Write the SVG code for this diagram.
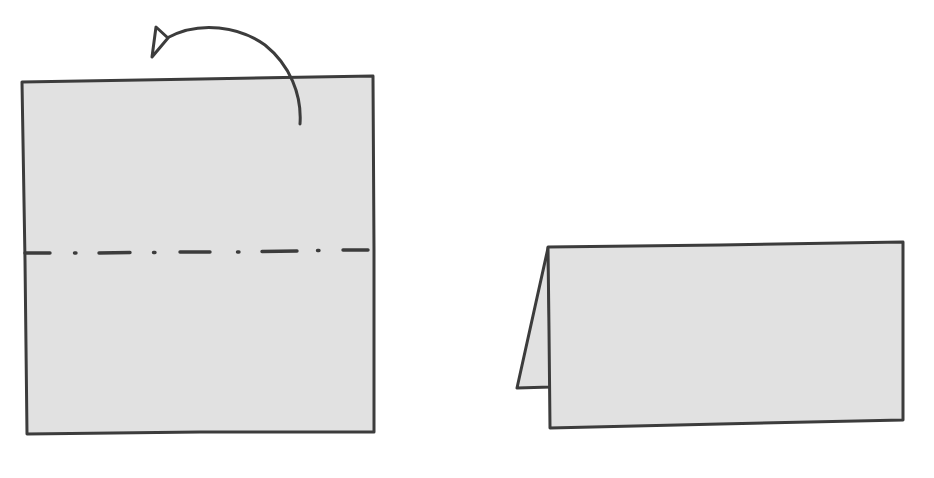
<svg xmlns="http://www.w3.org/2000/svg" width="934" height="478" viewBox="0 0 934 478">
<style>
.paper{fill:#e1e1e1;stroke:#3c3c3c;stroke-width:3;stroke-linejoin:round;stroke-linecap:round}
.ln{fill:none;stroke:#3c3c3c;stroke-width:3;stroke-linecap:round;stroke-linejoin:round}
.fold{fill:none;stroke:#3c3c3c;stroke-width:3.4;stroke-linecap:round}
</style>
<rect width="934" height="478" fill="#ffffff"/>
<g id="square">
<path class="paper" d="M22,82 L200,79 L373,76 L374,250 L374,432 L200,432 L27,434 L25,260 Z"/>
</g>
<g id="fold-line">
<path class="fold" d="M25,253 L50,253 M74.5,253 L76,253 M99,253 L130,252.5 M153.5,252.5 L155,252.5 M180,252 L210,252 M237.5,252 L239,252 M262,251.5 L297,251 M317.5,250.5 L319,250.5 M343,250 L368,250"/>
</g>
<g id="arrow">
<path class="ln" d="M300,124 C302,95 290,65 265,45 C240,27 200,20 167,38"/>
<path class="ln" d="M168,38 L156,27 L152,57 Z" style="fill:#ffffff"/>
</g>
<g id="folded">
<path class="paper" d="M548,248 L517,388 L551,387 Z"/>
<path class="paper" d="M548,247 L720,245 L903,242 L903,420 L720,424 L550,428 L549,330 Z"/>
</g>
</svg>
